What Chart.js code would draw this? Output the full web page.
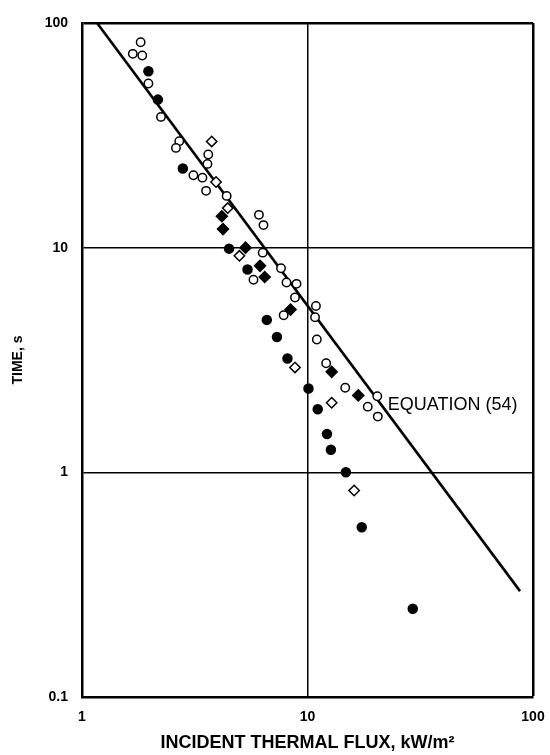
<!DOCTYPE html>
<html>
<head>
<meta charset="utf-8">
<title>Time vs incident thermal flux</title>
<script src="https://cdn.jsdelivr.net/npm/chart.js@4.4.1/dist/chart.umd.min.js"></script>
<style>
  html, body { margin: 0; padding: 0; background: #fff; }
  #c { display: block; }
</style>
</head>
<body>
<canvas id="c" width="550" height="755"></canvas>
<script>
// Measured data: incident thermal flux (kW/m2) against time (s)
const openCircles = [
  [1.82, 82.1], [1.68, 72.9], [1.85, 71.7], [1.97, 53.8], [2.24, 38.2],
  [2.70, 29.8], [2.61, 27.8], [3.63, 26.0], [3.60, 23.6], [3.12, 21.0],
  [3.42, 20.5], [3.55, 17.9], [4.38, 17.0], [6.09, 14.0], [6.38, 12.6],
  [6.33, 9.5], [5.76, 7.2], [7.63, 8.1], [8.07, 7.0], [8.94, 6.9],
  [8.80, 6.0], [7.84, 5.0], [10.9, 5.5], [10.8, 4.9], [11.0, 3.9],
  [12.1, 3.06], [14.7, 2.38], [20.4, 2.18], [18.5, 1.96], [20.5, 1.77]
];
const filledCircles = [
  [1.97, 61.0], [2.17, 45.6], [2.80, 22.5], [4.49, 9.9], [5.42, 8.0],
  [6.60, 4.77], [7.32, 4.0], [8.15, 3.21], [10.1, 2.36], [11.1, 1.91],
  [12.2, 1.48], [12.7, 1.26], [14.8, 1.0], [17.4, 0.57], [29.3, 0.247]
];
const openDiamonds = [
  [3.76, 29.7], [3.93, 19.6], [4.43, 15.0], [4.99, 9.2], [8.80, 2.93],
  [12.8, 2.04], [16.1, 0.83]
];
const filledDiamonds = [
  [4.17, 13.8], [4.22, 12.1], [5.31, 10.0], [6.16, 8.3], [6.46, 7.4],
  [8.41, 5.3], [12.8, 2.80], [16.8, 2.20]
];
// Correlation line, end points
const equationLine = [[1.166, 100], [87.6, 0.296]];
const equationLabel = 'EQUATION (54)';
const equationLabelAt = [22.7, 2.0];

const xTicks = [1, 10, 100];
const yTicks = [0.1, 1, 10, 100];
const xTitle = 'INCIDENT THERMAL FLUX, kW/m\u00B2';
const yTitle = 'TIME, s';

const toXY = arr => arr.map(p => ({ x: p[0], y: p[1] }));
const FONT = '"Liberation Sans", Arial, Helvetica, sans-serif';

const markerBase = {
  showLine: false,
  borderColor: '#000',
  borderWidth: 1.5,
  pointBorderColor: '#000',
  pointBorderWidth: 1.5
};

const labelPlugin = {
  id: 'equationLabel',
  afterDatasetsDraw(chart) {
    const { ctx, scales } = chart;
    const px = scales.x.getPixelForValue(equationLabelAt[0]);
    const py = scales.y.getPixelForValue(equationLabelAt[1]);
    ctx.save();
    ctx.fillStyle = '#000';
    ctx.font = '18px ' + FONT;
    ctx.textAlign = 'left';
    ctx.textBaseline = 'middle';
    ctx.fillText(equationLabel, px, py);
    ctx.restore();
  }
};

const edgeWidth = (ctx, edge) => (ctx.tick && ctx.tick.value === edge ? 2.5 : 1.5);

new Chart(document.getElementById('c'), {
  type: 'scatter',
  data: {
    datasets: [
      {
        type: 'line',
        data: toXY(equationLine),
        borderColor: '#000',
        borderWidth: 2.6,
        pointRadius: 0,
        fill: false,
        order: 5
      },
      Object.assign({}, markerBase, {
        data: toXY(openCircles),
        pointStyle: 'circle', pointRadius: 4.2,
        pointBackgroundColor: '#fff', backgroundColor: '#fff'
      }),
      Object.assign({}, markerBase, {
        data: toXY(filledCircles),
        pointStyle: 'circle', pointRadius: 4.5,
        pointBackgroundColor: '#000', backgroundColor: '#000'
      }),
      Object.assign({}, markerBase, {
        data: toXY(openDiamonds),
        pointStyle: 'rectRot', pointRadius: 5.2,
        pointBackgroundColor: '#fff', backgroundColor: '#fff'
      }),
      Object.assign({}, markerBase, {
        data: toXY(filledDiamonds),
        pointStyle: 'rectRot', pointRadius: 5.5,
        pointBackgroundColor: '#000', backgroundColor: '#000'
      })
    ]
  },
  options: {
    responsive: false,
    animation: false,
    devicePixelRatio: 1,
    layout: { padding: { left: 0, right: 17, top: 23, bottom: 0 } },
    plugins: { legend: { display: false }, tooltip: { enabled: false } },
    scales: {
      x: {
        type: 'logarithmic',
        min: 1, max: 100,
        afterBuildTicks: s => { s.ticks = xTicks.map(v => ({ value: v })); },
        afterFit: s => { s.height = 58; s.paddingLeft = 0; s.paddingRight = 0; },
        ticks: {
          color: '#000',
          padding: 12,
          maxRotation: 0,
          font: { family: FONT, size: 14, weight: 'bold' },
          callback: v => String(v)
        },
        grid: {
          color: '#000',
          lineWidth: ctx => edgeWidth(ctx, 100),
          drawTicks: false
        },
        border: { color: '#000', width: 2.5 },
        title: {
          display: true,
          text: xTitle,
          color: '#000',
          font: { family: FONT, size: 18, weight: 'bold' },
          padding: { top: 0, bottom: 1 }
        }
      },
      y: {
        type: 'logarithmic',
        min: 0.1, max: 100,
        afterBuildTicks: s => { s.ticks = yTicks.map(v => ({ value: v })); },
        afterFit: s => { s.width = 82; s.paddingTop = 0; s.paddingBottom = 0; },
        ticks: {
          color: '#000',
          padding: 14,
          font: { family: FONT, size: 14, weight: 'bold' },
          callback: v => String(v)
        },
        grid: {
          color: '#000',
          lineWidth: ctx => edgeWidth(ctx, 100),
          drawTicks: false
        },
        border: { color: '#000', width: 2.5 },
        title: {
          display: true,
          text: yTitle,
          color: '#000',
          font: { family: FONT, size: 14, weight: 'bold' },
          padding: { top: 10, bottom: 0 }
        }
      }
    }
  },
  plugins: [labelPlugin]
});
</script>
</body>
</html>
